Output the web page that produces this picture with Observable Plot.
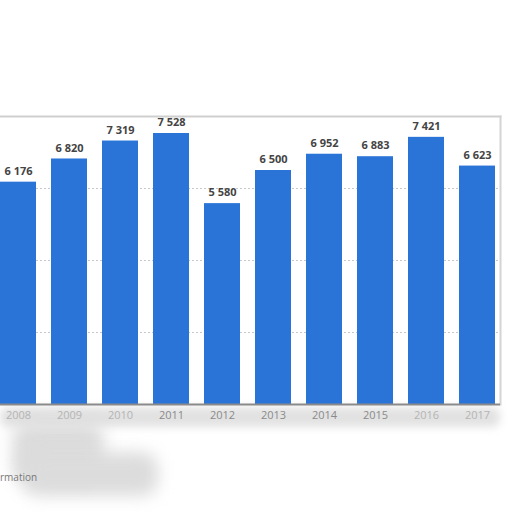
<!DOCTYPE html>
<html>
<head>
<meta charset="utf-8">
<script src="https://cdn.jsdelivr.net/npm/d3@7"></script>
<script src="https://cdn.jsdelivr.net/npm/@observablehq/plot@0.6"></script>
<style>
  html, body { margin: 0; padding: 0; background: #fff; overflow: hidden; }
  body { width: 512px; height: 512px; position: relative; font-family: "Open Sans", "DejaVu Sans", sans-serif; }
  #chart { position: absolute; left: 0; top: 0; }
  .smudge { position: absolute; background: #dcdcdc; filter: blur(8px); border-radius: 16px; }
  #note { position: absolute; top: 470px; left: 0px; font-size: 10px; color: #777; white-space: nowrap; }
</style>
</head>
<body>
<div class="smudge" style="left:0px; top:407px; width:500px; height:20px; background:#e2e2e2; filter:blur(4px); border-radius:8px;"></div>
<div class="smudge" style="left:12px; top:422px; width:92px; height:60px;"></div>
<div class="smudge" style="left:22px; top:452px; width:136px; height:44px;"></div>
<div id="chart"></div>
<div id="note">rmation</div>
<script>
const years = ["2008", "2009", "2010", "2011", "2012", "2013", "2014", "2015", "2016", "2017"];
const values = [6176, 6820, 7319, 7528, 5580, 6500, 6952, 6883, 7421, 6623];
const gridValues = [2000, 4000, 6000];

const data = years.map((y, i) => ({year: y, value: values[i]}));
const fmt = v => d3.format(",")(v).replace(/,/g, " ");
const faded = new Set(["2008", "2009", "2010", "2016", "2017"]);

const chart = Plot.plot({
  width: 512,
  height: 512,
  marginTop: 116,
  marginBottom: 108,
  marginLeft: 0,
  marginRight: 12,
  style: {fontFamily: "'Open Sans', 'DejaVu Sans', sans-serif", background: "transparent"},
  x: {domain: years, range: [-16.5, 511.5], padding: 0.3, label: null, axis: null},
  y: {domain: [0, 8000], axis: null},
  marks: [
    Plot.ruleY(gridValues, {stroke: "#c8c8c8", strokeDasharray: "2,2", strokeWidth: 1}),
    Plot.frame({anchor: "top", stroke: "#cfcfcf", strokeWidth: 2}),
    Plot.frame({anchor: "right", stroke: "#d4d4d4", strokeWidth: 2}),
    Plot.barY(data, {x: "year", y: "value", fill: "#2a74d7"}),
    Plot.ruleY([0], {stroke: "#8a8a8a", strokeWidth: 2}),
    Plot.text(data, {x: "year", y: "value", text: d => fmt(d.value), dy: -11, fontSize: 11, fontWeight: "bold", fill: "#444"}),
    Plot.text(years, {x: d => d, frameAnchor: "bottom", dy: 14, fontSize: 11, fill: d => faded.has(d) ? "#b4b4b4" : "#8a8a8a"})
  ]
});
document.getElementById("chart").appendChild(chart);
</script>
</body>
</html>
